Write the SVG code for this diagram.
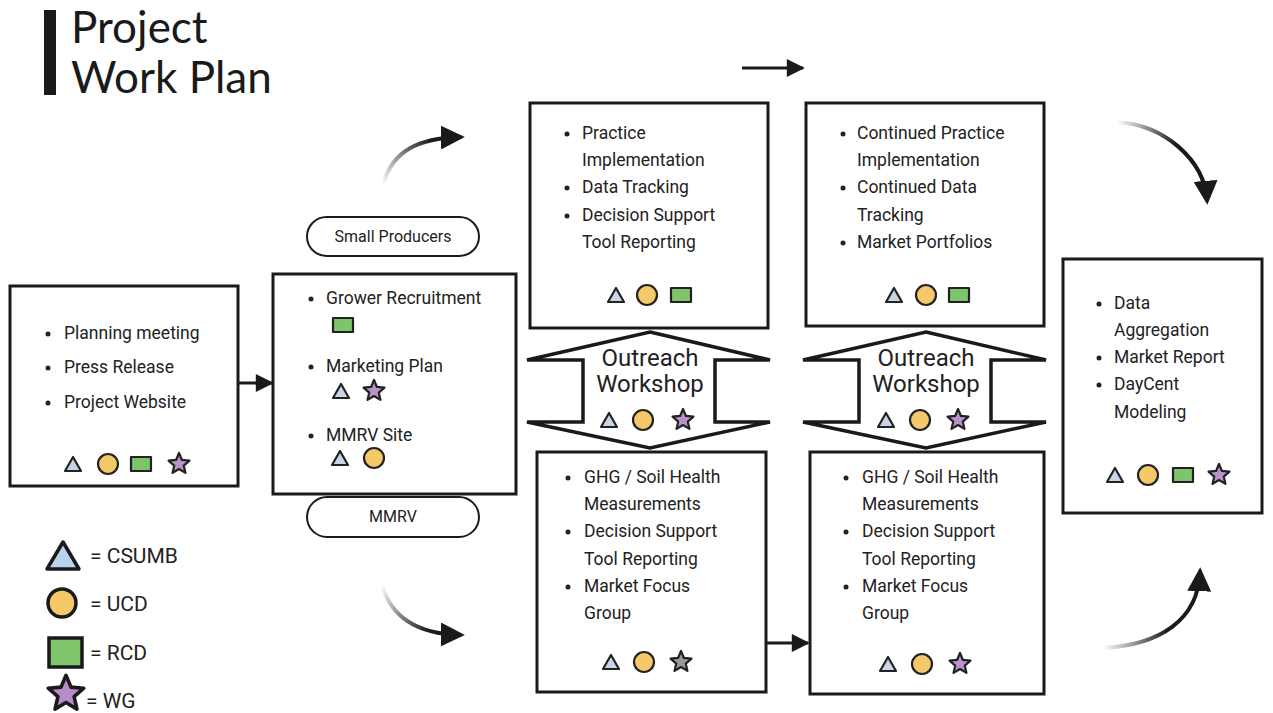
<svg xmlns="http://www.w3.org/2000/svg" width="1273" height="713" viewBox="0 0 1273 713">
  <style>
    .box { fill: #fff; stroke: #1a1a1a; stroke-width: 3; }
    .pill { fill: #fff; stroke: #1a1a1a; stroke-width: 2; }
    .t { font-family: Roboto, "Liberation Sans", sans-serif; font-size: 17.5px; fill: #222; }
    .pt { font-family: Roboto, "Liberation Sans", sans-serif; font-size: 16px; fill: #222; text-anchor: middle; }
    .ow { font-family: Roboto, "Liberation Sans", sans-serif; font-size: 24px; fill: #222; text-anchor: middle; }
    .lg { font-family: Roboto, "Liberation Sans", sans-serif; font-size: 21px; fill: #222; }
    .title { font-family: Lato, "Open Sans", sans-serif; font-size: 44px; fill: #1a1a1a; }
    .bul { fill: #222; }
    .ico { stroke: #222; stroke-width: 2.2; stroke-linejoin: round; }
    .line { stroke: #1a1a1a; stroke-width: 3; fill: none; }
    .curve { stroke-width: 4; fill: none; stroke-linecap: round; }
  </style>
  <defs>
    <marker id="head" viewBox="0 0 10 10" refX="9" refY="5" markerWidth="6.5" markerHeight="6" markerUnits="strokeWidth" orient="auto">
      <path d="M0,0 L10,5 L0,10 z" fill="#1a1a1a"/>
    </marker>
    <marker id="headc" viewBox="0 0 10 10" refX="8" refY="5" markerWidth="6" markerHeight="6" markerUnits="strokeWidth" orient="auto">
      <path d="M0,0 L10,5 L0,10 z" fill="#1a1a1a"/>
    </marker>
    <g id="tri"><polygon class="ico" points="0,-8 8,6 -8,6" fill="#c9d5e6"/></g>
    <g id="circ"><circle class="ico" r="10" fill="#f5c96a"/></g>
    <g id="sq"><rect class="ico" x="-10" y="-7" width="20" height="14" fill="#7dc46c"/></g>
    <g id="star"><polygon class="ico" points="0,-11 2.94,-4.05 10.46,-3.4 4.76,1.55 6.47,8.9 0,5 -6.47,8.9 -4.76,1.55 -10.46,-3.4 -2.94,-4.05" fill="#b992c9"/></g>
    <g id="stargray"><polygon class="ico" points="0,-11 2.94,-4.05 10.46,-3.4 4.76,1.55 6.47,8.9 0,5 -6.47,8.9 -4.76,1.55 -10.46,-3.4 -2.94,-4.05" fill="#9a9a9a"/></g>
    <linearGradient id="g1" gradientUnits="userSpaceOnUse" x1="383" y1="185" x2="430" y2="140">
      <stop offset="0" stop-color="#1a1a1a" stop-opacity="0"/>
      <stop offset="1" stop-color="#1a1a1a"/>
    </linearGradient>
    <linearGradient id="g2" gradientUnits="userSpaceOnUse" x1="382" y1="585" x2="430" y2="630">
      <stop offset="0" stop-color="#1a1a1a" stop-opacity="0"/>
      <stop offset="1" stop-color="#1a1a1a"/>
    </linearGradient>
    <linearGradient id="g3" gradientUnits="userSpaceOnUse" x1="1117" y1="122" x2="1175" y2="145">
      <stop offset="0" stop-color="#1a1a1a" stop-opacity="0"/>
      <stop offset="1" stop-color="#1a1a1a"/>
    </linearGradient>
    <linearGradient id="g4" gradientUnits="userSpaceOnUse" x1="1103" y1="648" x2="1165" y2="625">
      <stop offset="0" stop-color="#1a1a1a" stop-opacity="0"/>
      <stop offset="1" stop-color="#1a1a1a"/>
    </linearGradient>
  </defs>

  <rect width="1273" height="713" fill="#fff"/>

  <!-- heading -->
  <g id="title">
    <rect x="44" y="10" width="12" height="85" fill="#1a1a1a"/>
    <text class="title" x="71" y="43">Project</text>
    <text class="title" x="71" y="93">Work Plan</text>
  </g>

  <!-- connectors -->
  <g id="connectors">
    <line class="line" x1="238" y1="383" x2="272" y2="383" marker-end="url(#head)"/>
    <line class="line" x1="742" y1="68" x2="803" y2="68" marker-end="url(#head)"/>
    <line class="line" x1="766" y1="643" x2="808" y2="643" marker-end="url(#head)"/>
    <path class="curve" stroke="url(#g1)" d="M383,185 C392,150 420,138 460,137" marker-end="url(#headc)"/>
    <path class="curve" stroke="url(#g2)" d="M382,585 C392,620 420,634 460,635" marker-end="url(#headc)"/>
    <path class="curve" stroke="url(#g3)" d="M1117,122 C1165,125 1204,160 1207,200" marker-end="url(#headc)"/>
    <path class="curve" stroke="url(#g4)" d="M1103,648 C1160,645 1198,620 1200,572" marker-end="url(#headc)"/>
  </g>

  <!-- kickoff -->
  <g id="kickoff">
    <rect class="box" x="10" y="286" width="228" height="200"/>
    <circle class="bul" cx="48" cy="334" r="2.5"/>
    <circle class="bul" cx="48" cy="368" r="2.5"/>
    <circle class="bul" cx="48" cy="403" r="2.5"/>
    <text class="t" x="64" y="339">Planning meeting</text>
    <text class="t" x="64" y="373">Press Release</text>
    <text class="t" x="64" y="408">Project Website</text>
    <use href="#tri" x="73" y="465"/>
    <use href="#circ" x="108" y="464"/>
    <use href="#sq" x="141" y="464"/>
    <use href="#star" x="179" y="464"/>
  </g>

  <!-- recruitment -->
  <g id="recruitment">
    <rect class="box" x="273" y="274" width="243" height="220"/>
    <circle class="bul" cx="311" cy="299" r="2.5"/>
    <circle class="bul" cx="311" cy="367" r="2.5"/>
    <circle class="bul" cx="311" cy="436" r="2.5"/>
    <text class="t" x="326" y="304">Grower Recruitment</text>
    <use href="#sq" x="343" y="325"/>
    <text class="t" x="326" y="372">Marketing Plan</text>
    <use href="#tri" x="341" y="392"/>
    <use href="#star" x="374" y="391"/>
    <text class="t" x="326" y="441">MMRV Site</text>
    <use href="#tri" x="340" y="459"/>
    <use href="#circ" x="374" y="458"/>
  </g>

  <g id="pill-small">
    <rect class="pill" x="307" y="217" width="172" height="39" rx="19.5"/>
    <text class="pt" x="393" y="242">Small Producers</text>
  </g>
  <g id="pill-mmrv">
    <rect class="pill" x="307" y="497" width="172" height="40" rx="20"/>
    <text class="pt" x="393" y="522">MMRV</text>
  </g>

  <!-- year 1 practice -->
  <g id="practice1">
    <rect class="box" x="530" y="103" width="238" height="225"/>
    <circle class="bul" cx="567" cy="134" r="2.5"/>
    <circle class="bul" cx="567" cy="188" r="2.5"/>
    <circle class="bul" cx="567" cy="216" r="2.5"/>
    <text class="t" x="582" y="139">Practice</text>
    <text class="t" x="582" y="166">Implementation</text>
    <text class="t" x="582" y="193">Data Tracking</text>
    <text class="t" x="582" y="221">Decision Support</text>
    <text class="t" x="582" y="248">Tool Reporting</text>
    <use href="#tri" x="616" y="296"/>
    <use href="#circ" x="647" y="295"/>
    <use href="#sq" x="681" y="295"/>
  </g>

  <!-- year 2 practice -->
  <g id="practice2">
    <rect class="box" x="806" y="103" width="238" height="223"/>
    <circle class="bul" cx="843" cy="134" r="2.5"/>
    <circle class="bul" cx="843" cy="188" r="2.5"/>
    <circle class="bul" cx="843" cy="243" r="2.5"/>
    <text class="t" x="857" y="139">Continued Practice</text>
    <text class="t" x="857" y="166">Implementation</text>
    <text class="t" x="857" y="193">Continued Data</text>
    <text class="t" x="857" y="221">Tracking</text>
    <text class="t" x="857" y="248">Market Portfolios</text>
    <use href="#tri" x="894" y="296"/>
    <use href="#circ" x="926" y="295"/>
    <use href="#sq" x="959" y="295"/>
  </g>

  <!-- outreach workshops -->
  <g id="workshop1">
    <polygon fill="#fff" stroke="#1a1a1a" stroke-width="3.5" stroke-linejoin="miter" points="650,332 770,360 715,360 715,422 770,422 650,448 527,422 583,422 583,360 527,360"/>
    <text class="ow" x="650" y="366">Outreach</text>
    <text class="ow" x="650" y="392">Workshop</text>
    <use href="#tri" x="609" y="421"/>
    <use href="#circ" x="643" y="420"/>
    <use href="#star" x="683" y="420"/>
  </g>
  <g id="workshop2">
    <polygon fill="#fff" stroke="#1a1a1a" stroke-width="3.5" stroke-linejoin="miter" points="926,332 1046,360 991,360 991,422 1046,422 926,448 803,422 859,422 859,360 803,360"/>
    <text class="ow" x="926" y="366">Outreach</text>
    <text class="ow" x="926" y="392">Workshop</text>
    <use href="#tri" x="886" y="421"/>
    <use href="#circ" x="920" y="420"/>
    <use href="#star" x="958" y="420"/>
  </g>

  <!-- year 1 measurements -->
  <g id="measure1">
    <rect class="box" x="537" y="452" width="229" height="240"/>
    <circle class="bul" cx="568" cy="478" r="2.5"/>
    <circle class="bul" cx="568" cy="532" r="2.5"/>
    <circle class="bul" cx="568" cy="587" r="2.5"/>
    <text class="t" x="584" y="483">GHG / Soil Health</text>
    <text class="t" x="584" y="510">Measurements</text>
    <text class="t" x="584" y="537">Decision Support</text>
    <text class="t" x="584" y="565">Tool Reporting</text>
    <text class="t" x="584" y="592">Market Focus</text>
    <text class="t" x="584" y="619">Group</text>
    <use href="#tri" x="611" y="663"/>
    <use href="#circ" x="644" y="662"/>
    <use href="#stargray" x="681" y="662"/>
  </g>

  <!-- year 2 measurements -->
  <g id="measure2">
    <rect class="box" x="810" y="452" width="234" height="242"/>
    <circle class="bul" cx="846" cy="478" r="2.5"/>
    <circle class="bul" cx="846" cy="532" r="2.5"/>
    <circle class="bul" cx="846" cy="587" r="2.5"/>
    <text class="t" x="862" y="483">GHG / Soil Health</text>
    <text class="t" x="862" y="510">Measurements</text>
    <text class="t" x="862" y="537">Decision Support</text>
    <text class="t" x="862" y="565">Tool Reporting</text>
    <text class="t" x="862" y="592">Market Focus</text>
    <text class="t" x="862" y="619">Group</text>
    <use href="#tri" x="888" y="665"/>
    <use href="#circ" x="922" y="664"/>
    <use href="#star" x="960" y="664"/>
  </g>

  <!-- reporting -->
  <g id="reporting">
    <rect class="box" x="1063" y="259" width="199" height="254"/>
    <circle class="bul" cx="1099" cy="304" r="2.5"/>
    <circle class="bul" cx="1099" cy="358" r="2.5"/>
    <circle class="bul" cx="1099" cy="385" r="2.5"/>
    <text class="t" x="1114" y="309">Data</text>
    <text class="t" x="1114" y="336">Aggregation</text>
    <text class="t" x="1114" y="363">Market Report</text>
    <text class="t" x="1114" y="390">DayCent</text>
    <text class="t" x="1114" y="418">Modeling</text>
    <use href="#tri" x="1115" y="476"/>
    <use href="#circ" x="1148" y="475"/>
    <use href="#sq" x="1183" y="475"/>
    <use href="#star" x="1219" y="475"/>
  </g>

  <!-- key -->
  <g id="legend">
    <polygon points="63,542 79,569 47,569" fill="#b9d3ee" stroke="#1a1a1a" stroke-width="3.5" stroke-linejoin="round"/>
    <text class="lg" x="90" y="563">= CSUMB</text>
    <circle cx="62" cy="603" r="14" fill="#f5c96a" stroke="#1a1a1a" stroke-width="3.5"/>
    <text class="lg" x="90" y="611">= UCD</text>
    <rect x="49" y="638" width="33" height="29" fill="#82c46c" stroke="#1a1a1a" stroke-width="3.5"/>
    <text class="lg" x="90" y="660">= RCD</text>
    <polygon transform="translate(66,694) scale(1.7)" points="0,-11 2.94,-4.05 10.46,-3.4 4.76,1.55 6.47,8.9 0,5 -6.47,8.9 -4.76,1.55 -10.46,-3.4 -2.94,-4.05" fill="#b58bc8" stroke="#1a1a1a" stroke-width="2.1" stroke-linejoin="round"/>
    <text class="lg" x="86" y="708">= WG</text>
  </g>
</svg>
